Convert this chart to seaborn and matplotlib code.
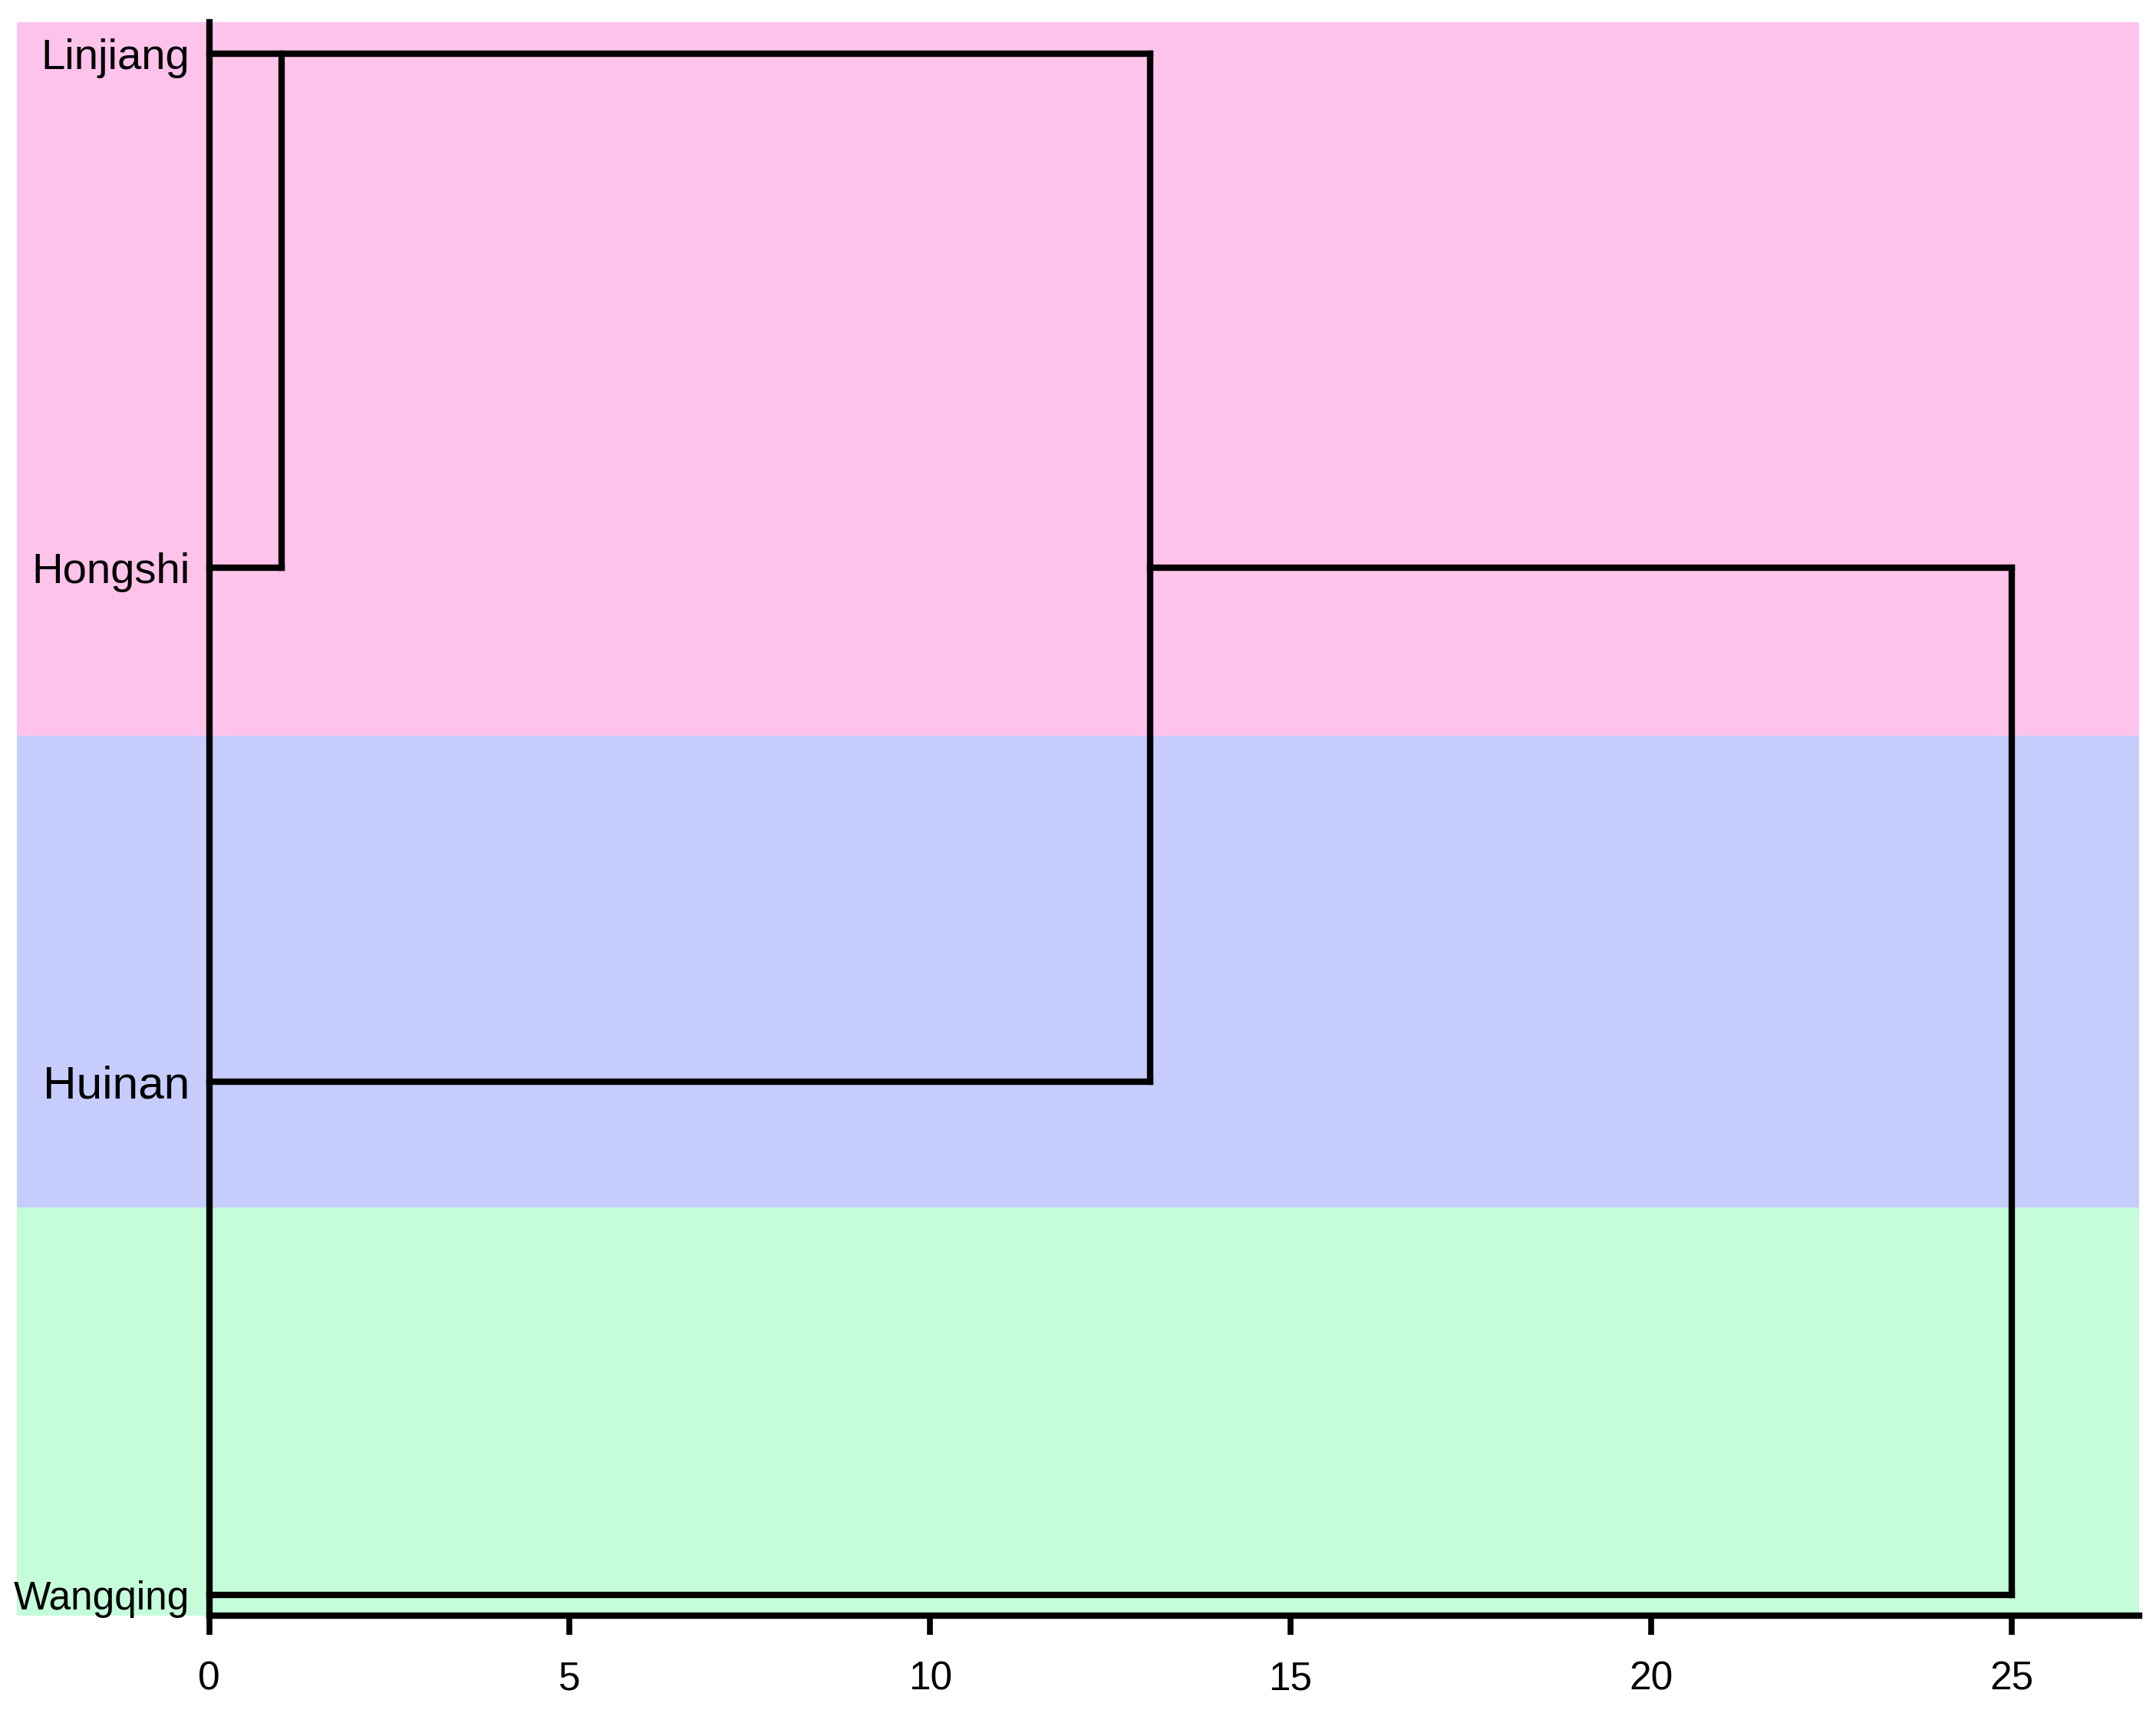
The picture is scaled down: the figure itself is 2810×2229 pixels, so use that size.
import matplotlib
matplotlib.use("Agg")
import matplotlib.pyplot as plt
import pandas as pd
import seaborn as sns

# leaves, top to bottom
leaf_names = ["Linjiang", "Hongshi", "Huinan", "Wangqing"]
leaf_sizes = [40.5, 40.5, 43.5, 37]
# merge distances (rescaled 0-25)
merge_heights = [1.0, 13.05, 25.0]
# background groups: (top, bottom, colour) in leaf units
band_edges = [-0.0615, 1.327, 2.245, 3.04]
band_colors = ["#FEC3EB", "#C6CDFC", "#C5FDDB"]
xticks = [0, 5, 10, 15, 20, 25]

plt.rcParams["font.family"] = ["Liberation Sans", "DejaVu Sans"]

h1, h2, h3 = merge_heights
# segments of the dendrogram (SPSS-like drawing)
segs = [
    [(0, 0), (h2, 0)],      # Linjiang row runs to second merge
    [(h1, 0), (h1, 1)],
    [(0, 1), (h1, 1)],
    [(h2, 0), (h2, 2)],
    [(0, 2), (h2, 2)],
    [(h2, 1), (h3, 1)],
    [(h3, 1), (h3, 3)],
    [(0, 3), (h3, 3)],
]
rows = []
for i, s in enumerate(segs):
    for k, (x, y) in enumerate(s):
        rows.append({"seg": i, "order": k, "x": x, "y": y})
seg_df = pd.DataFrame(rows)

fig = plt.figure(figsize=(28.1, 22.29), dpi=100)
ax = fig.add_axes([0.0077, 0.0552, 0.9845, 0.9318])

for top, bottom, c in zip(band_edges[:-1], band_edges[1:], band_colors):
    ax.axhspan(top, bottom, color=c, lw=0, zorder=0)

sns.lineplot(data=seg_df, x="x", y="y", units="seg", estimator=None, sort=False,
             color="black", linewidth=6, solid_capstyle="projecting", ax=ax)

ax.set_xlim(-2.67, 26.77)
ax.set_ylim(band_edges[-1], band_edges[0])
ax.set_xlabel("")
ax.set_ylabel("")

for side in ["top", "right"]:
    ax.spines[side].set_visible(False)
ax.spines["left"].set_position(("data", 0))
ax.spines["bottom"].set_bounds(0, 26.77)
for side in ["left", "bottom"]:
    ax.spines[side].set_linewidth(6)
    ax.spines[side].set_color("black")

ax.set_xticks(xticks)
ax.set_xticklabels([str(t) for t in xticks], fontsize=37)
ax.tick_params(axis="x", direction="out", length=18, width=5.5, pad=24)

ax.set_yticks(range(len(leaf_names)))
ax.set_yticklabels(leaf_names)
for lab, fs in zip(ax.get_yticklabels(), leaf_sizes):
    lab.set_fontsize(fs)
ax.tick_params(axis="y", length=0, pad=18)

ax.patch.set_visible(False)
fig.savefig("out.png", dpi=100, facecolor="white")
